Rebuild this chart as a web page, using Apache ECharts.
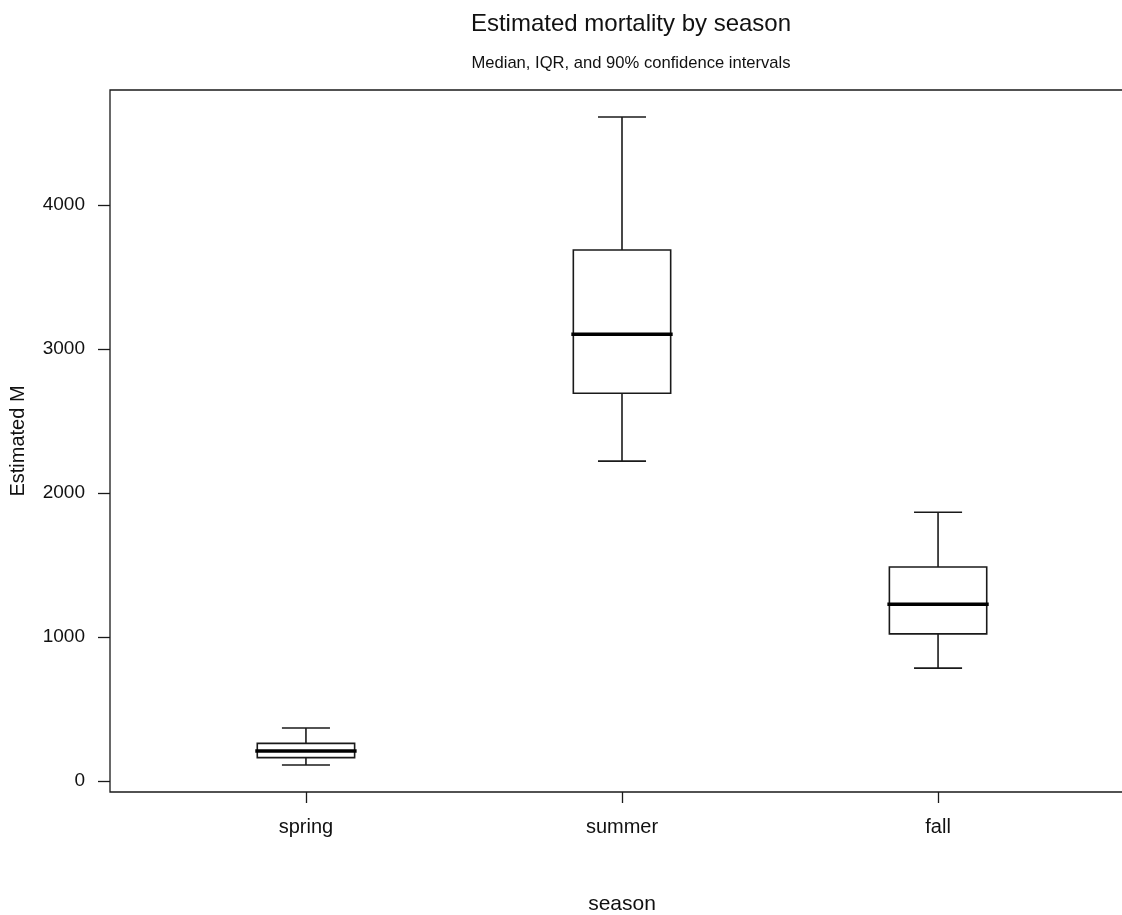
<!DOCTYPE html>
<html>
<head>
<meta charset="utf-8">
<script src="https://cdn.jsdelivr.net/npm/echarts@6/dist/echarts.min.js"></script>
<style>html,body{margin:0;padding:0;background:#fff;}#c{width:1122px;height:915px;}</style>
</head>
<body>
<div id="c"></div>
<script>
// Data
const categories = ['spring', 'summer', 'fall'];
const lowCI  = [111, 2222, 784];
const q1     = [163, 2693, 1022];
const median = [209, 3103, 1228];
const q3     = [262, 3688, 1487];
const highCI = [368, 4612, 1867];
const yTicks = [0, 1000, 2000, 3000, 4000];
const xPositions = [1, 2, 3];

const boxData = categories.map((c, i) => [xPositions[i], lowCI[i], q1[i], median[i], q3[i], highCI[i]]);

const chart = echarts.init(document.getElementById('c'), null, {renderer: 'canvas'});
const FONT = '"Liberation Sans", Arial, sans-serif';
const LINE = '#1a1a1a';

function renderItem(params, api) {
  const x = api.value(0);
  const unit = api.size([1, 0])[0];
  const half = unit * 0.154;
  const cap = unit * 0.076;
  const pLow = api.coord([x, api.value(1)]);
  const pQ1 = api.coord([x, api.value(2)]);
  const pMed = api.coord([x, api.value(3)]);
  const pQ3 = api.coord([x, api.value(4)]);
  const pHigh = api.coord([x, api.value(5)]);
  const cx = pMed[0];
  const ls = {stroke: LINE, lineWidth: 1.6, fill: null};
  return {
    type: 'group',
    children: [
      {type: 'line', shape: {x1: cx, y1: pHigh[1], x2: cx, y2: pQ3[1]}, style: ls},
      {type: 'line', shape: {x1: cx - cap, y1: pHigh[1], x2: cx + cap, y2: pHigh[1]}, style: ls},
      {type: 'line', shape: {x1: cx, y1: pLow[1], x2: cx, y2: pQ1[1]}, style: ls},
      {type: 'line', shape: {x1: cx - cap, y1: pLow[1], x2: cx + cap, y2: pLow[1]}, style: ls},
      {type: 'rect', shape: {x: cx - half, y: pQ3[1], width: 2 * half, height: pQ1[1] - pQ3[1]}, style: {stroke: LINE, lineWidth: 1.6, fill: '#fff'}},
      {type: 'line', shape: {x1: cx - half - 2, y1: pMed[1], x2: cx + half + 2, y2: pMed[1]}, style: {stroke: '#000', lineWidth: 3.5}}
    ]
  };
}

chart.setOption({
  animation: false,
  backgroundColor: '#fff',
  title: [
    {text: 'Estimated mortality by season', left: 626, top: 7, textAlign: 'center',
     textStyle: {fontFamily: FONT, fontSize: 24, fontWeight: 'normal', color: '#111'}},
    {text: 'Median, IQR, and 90% confidence intervals', left: 626, top: 50, textAlign: 'center',
     textStyle: {fontFamily: FONT, fontSize: 16.6, fontWeight: 'normal', color: '#111'}}
  ],
  grid: {left: 110, right: -12, top: 90, bottom: 123, show: true, borderColor: LINE, borderWidth: 1.3,
         backgroundColor: 'transparent', containLabel: false, outerBoundsMode: 'none'},
  xAxis: {
    type: 'value', min: 0.38, max: 3.62,
    name: 'season', nameLocation: 'middle', nameGap: 102,
    nameTextStyle: {fontFamily: FONT, fontSize: 21, color: '#111'},
    axisLine: {show: false, onZero: false},
    axisTick: {show: true, length: 11, inside: false, customValues: xPositions, lineStyle: {color: LINE, width: 1.3}},
    axisLabel: {customValues: xPositions, margin: 25, fontFamily: FONT, fontSize: 20, color: '#111',
      formatter: v => categories[Math.round(v) - 1] || ''},
    splitLine: {show: false}
  },
  yAxis: {
    type: 'value', min: -76, max: 4799,
    name: 'Estimated M', nameLocation: 'middle', nameGap: 82, nameRotate: 90,
    nameTextStyle: {fontFamily: FONT, fontSize: 20, color: '#111'},
    axisLine: {show: false, onZero: false},
    axisTick: {show: true, length: 12, customValues: yTicks, lineStyle: {color: LINE, width: 1.3}},
    axisLabel: {customValues: yTicks, margin: 25, fontFamily: FONT, fontSize: 19, color: '#111',
      formatter: v => String(v)},
    splitLine: {show: false}
  },
  series: [{
    type: 'custom',
    renderItem: renderItem,
    encode: {x: 0, y: [1, 2, 3, 4, 5]},
    data: boxData,
    clip: false
  }]
});
</script>
</body>
</html>
